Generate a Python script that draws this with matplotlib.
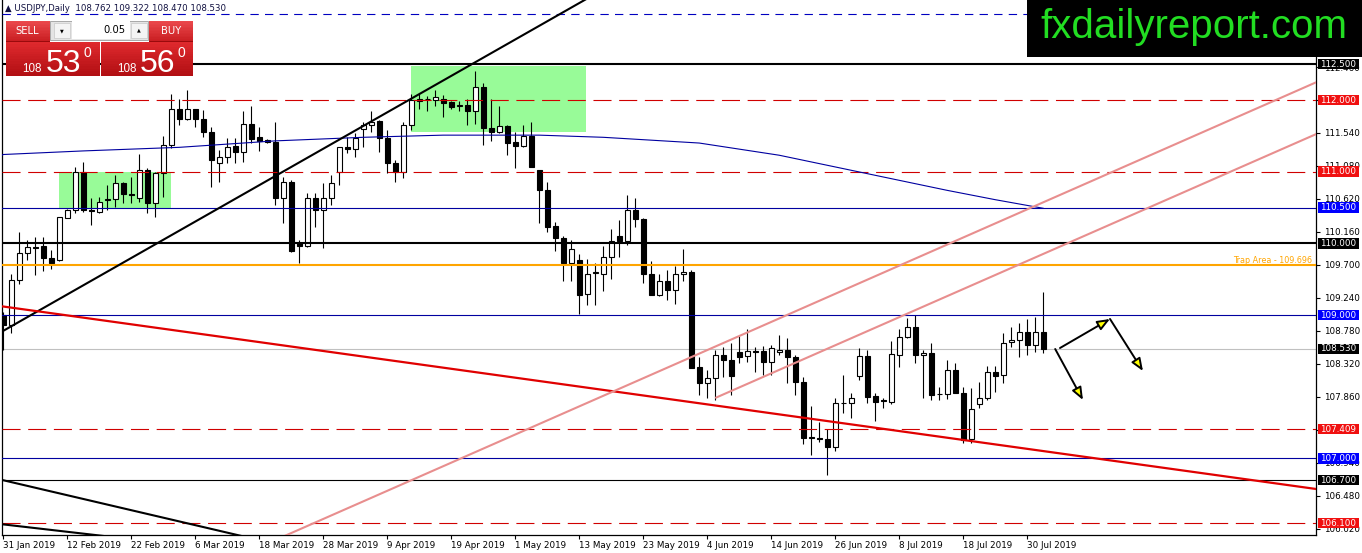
import matplotlib
matplotlib.use("Agg")
import matplotlib.pyplot as plt
from matplotlib.patches import Rectangle, FancyArrowPatch
from matplotlib.transforms import blended_transform_factory
import matplotlib.colors as mcolors
import numpy as np

plt.rcParams['lines.scale_dashes'] = False
plt.rcParams['font.family'] = ['DejaVu Sans']

# ---------------- data ----------------
header_text = "\u25B2 USDJPY,Daily  108.762 109.322 108.470 108.530"

opens = [109.00, 108.86, 109.49, 109.86, 109.95, 109.96, 109.79, 109.77, 110.36, 110.47,
         110.99, 110.46, 110.44, 110.60, 110.62, 110.84, 110.69, 110.64, 111.03, 110.57,
         110.98, 111.37, 111.88, 111.73, 111.87, 111.74, 111.56, 111.12, 111.21, 111.36,
         111.28, 111.67, 111.48, 111.44, 111.42, 110.64, 110.86, 110.01, 109.97, 110.63,
         110.47, 110.64, 111.00, 111.35, 111.31, 111.59, 111.65, 111.71, 111.47, 111.12,
         111.00, 111.65, 111.98, 112.01, 112.00, 112.02, 111.97, 111.92, 111.93, 111.84,
         112.18, 111.61, 111.56, 111.64, 111.42, 111.36, 111.50, 111.02, 110.75, 110.24,
         110.08, 109.72, 109.77, 109.29, 109.59, 109.58, 109.81, 110.11, 110.04, 110.47,
         110.34, 109.58, 109.28, 109.48, 109.35, 109.57, 109.60, 108.27, 108.05, 108.12,
         108.44, 108.38, 108.48, 108.43, 108.50, 108.50, 108.35, 108.49, 108.52, 108.42,
         108.07, 107.30, 107.28, 107.27, 107.16, 107.77, 107.77, 108.15, 108.43, 107.87,
         107.81, 107.79, 108.44, 108.70, 108.83, 108.44, 108.47, 107.90, 107.90, 108.23,
         107.92, 107.27, 107.76, 107.85, 108.20, 108.17, 108.62, 108.65, 108.77, 108.58,
         108.762]
highs = [109.05, 109.58, 110.16, 110.05, 110.09, 110.09, 109.91, 110.37, 110.48, 111.06,
         111.14, 110.64, 110.65, 110.81, 110.95, 110.86, 110.93, 111.25, 111.05, 111.00,
         111.50, 112.08, 112.02, 112.14, 111.88, 111.86, 111.63, 111.30, 111.47, 111.47,
         111.84, 111.91, 111.63, 111.46, 111.70, 110.93, 110.88, 110.05, 110.70, 110.70,
         110.84, 110.95, 111.35, 111.49, 111.54, 111.70, 111.84, 111.72, 111.58, 111.16,
         111.70, 112.09, 112.09, 112.05, 112.14, 112.07, 111.99, 111.99, 112.02, 112.40,
         112.24, 112.02, 111.91, 111.65, 111.56, 111.65, 111.70, 111.02, 110.86, 110.30,
         110.10, 110.05, 109.85, 109.78, 109.72, 109.96, 110.20, 110.33, 110.67, 110.63,
         110.36, 109.76, 109.58, 109.63, 109.68, 109.92, 109.63, 108.42, 108.23, 108.51,
         108.56, 108.61, 108.71, 108.80, 108.56, 108.57, 108.58, 108.72, 108.68, 108.44,
         108.13, 107.73, 107.51, 107.41, 107.84, 108.16, 107.92, 108.54, 108.51, 107.92,
         107.84, 108.64, 108.80, 108.96, 109.00, 108.52, 108.61, 108.00, 108.37, 108.33,
         108.00, 107.98, 108.07, 108.29, 108.29, 108.75, 108.83, 108.89, 108.94, 108.98,
         109.322]
lows = [108.51, 108.75, 109.44, 109.77, 109.56, 109.61, 109.65, 109.75, 110.35, 110.42,
        110.44, 110.26, 110.43, 110.47, 110.51, 110.56, 110.56, 110.58, 110.42, 110.37,
        110.65, 111.33, 111.65, 111.72, 111.63, 111.49, 110.79, 110.86, 111.12, 111.12,
        111.14, 111.40, 111.29, 111.40, 110.54, 110.28, 109.88, 109.73, 109.95, 110.23,
        109.94, 110.54, 110.81, 111.26, 111.21, 111.34, 111.56, 111.28, 110.98, 110.85,
        110.91, 111.58, 111.88, 111.85, 111.92, 111.77, 111.88, 111.84, 111.65, 111.67,
        111.37, 111.43, 111.54, 111.23, 111.05, 111.34, 111.07, 110.28, 110.16, 109.90,
        109.47, 109.48, 109.02, 109.14, 109.14, 109.33, 109.50, 109.81, 109.98, 110.23,
        109.45, 109.28, 109.27, 109.21, 109.15, 109.48, 108.26, 107.89, 107.84, 107.82,
        108.14, 107.89, 108.33, 108.34, 108.21, 108.16, 108.16, 108.44, 108.06, 107.89,
        107.20, 107.05, 107.23, 106.77, 107.10, 107.63, 107.56, 108.09, 107.77, 107.53,
        107.70, 107.76, 108.27, 108.68, 108.33, 107.85, 107.81, 107.81, 107.83, 107.92,
        107.21, 107.21, 107.70, 107.82, 107.93, 108.05, 108.56, 108.42, 108.44, 108.49,
        108.470]
closes = [108.86, 109.49, 109.86, 109.95, 109.94, 109.79, 109.72, 110.37, 110.47, 110.99,
          110.46, 110.45, 110.58, 110.62, 110.84, 110.69, 110.68, 111.03, 110.56, 110.98,
          111.37, 111.88, 111.73, 111.88, 111.74, 111.56, 111.16, 111.21, 111.35, 111.28,
          111.67, 111.45, 111.43, 111.41, 110.64, 110.85, 109.90, 109.97, 110.63, 110.47,
          110.64, 110.84, 111.35, 111.31, 111.47, 111.65, 111.70, 111.47, 111.12, 110.99,
          111.65, 112.00, 112.01, 112.02, 112.04, 111.96, 111.90, 111.92, 111.85, 112.18,
          111.61, 111.56, 111.64, 111.40, 111.36, 111.50, 111.07, 110.75, 110.23, 110.08,
          109.73, 109.92, 109.28, 109.58, 109.59, 109.81, 110.04, 110.04, 110.47, 110.34,
          109.58, 109.28, 109.48, 109.35, 109.57, 109.60, 108.26, 108.05, 108.12, 108.44,
          108.37, 108.15, 108.42, 108.50, 108.48, 108.35, 108.54, 108.52, 108.42, 108.07,
          107.28, 107.28, 107.27, 107.16, 107.77, 107.77, 107.84, 108.43, 107.86, 107.79,
          107.80, 108.46, 108.70, 108.83, 108.44, 108.47, 107.89, 107.90, 108.23, 107.92,
          107.26, 107.69, 107.85, 108.20, 108.15, 108.61, 108.65, 108.77, 108.58, 108.76,
          108.530]

date_bars = [0, 8, 16, 24, 32, 40, 48, 56, 64, 72, 80, 88, 96, 104, 112, 120, 128]
date_labels = ["31 Jan 2019", "12 Feb 2019", "22 Feb 2019", "6 Mar 2019", "18 Mar 2019",
               "28 Mar 2019", "9 Apr 2019", "19 Apr 2019", "1 May 2019", "13 May 2019",
               "23 May 2019", "4 Jun 2019", "14 Jun 2019", "26 Jun 2019", "8 Jul 2019",
               "18 Jul 2019", "30 Jul 2019"]

price_ticks = [106.02, 106.48, 106.94, 107.40, 107.86, 108.32, 108.78, 109.24, 109.70,
               110.16, 110.62, 111.08, 111.54, 112.00, 112.46, 112.92, 113.38]
# tick labels fully covered in the reference (by level boxes or logo) are left blank
price_tick_labels = ["106.020", "106.480", "106.940", "", "107.860", "108.320", "108.780",
                     "109.240", "109.700", "110.160", "110.620", "111.080", "111.540", "",
                     "112.460", "", ""]

ma_bars = [-0.15, 0, 10, 22, 34, 45, 55, 67, 75, 87, 97, 106, 112, 118, 124, 130]
ma_vals = [111.23, 111.24, 111.29, 111.34, 111.43, 111.48, 111.51, 111.51, 111.48,
           111.40, 111.23, 111.02, 110.88, 110.74, 110.61, 110.49]

red_dashed_levels = [112.0, 111.0, 107.409, 106.1]
blue_levels = [110.5, 109.0, 107.0]
black_thick_levels = [112.5, 110.0]
black_thin_levels = [106.7]
trap_level = 109.696
trap_label = "Trap Area - 109.696"
top_dashed_level = 113.2
bid_price = 108.530

label_levels = [112.5, 112.0, 111.0, 110.5, 110.0, 109.0, 108.53, 107.409, 107.0, 106.7, 106.1]
label_kinds = ["black", "red", "red", "blue", "black", "blue", "black", "red", "blue", "black", "red"]

# zones: (bar_from, bar_to), (price_low, price_high)
zone_bars = [(7.0, 20.95), (50.95, 72.85)]
zone_prices = [(110.49, 111.0), (111.55, 112.48)]

# trend lines: two anchor points (bar, price)
trend_black_up = [(0, 108.78), (50, 111.955)]
trend_red_down = [(0, 109.12), (100, 107.569)]
trend_pink_long = [(36, 105.96), (130, 110.573)]
trend_pink_short = [(89, 107.844), (130, 109.853)]
trend_black_low1 = [(0, 106.697), (28, 105.966)]
trend_black_low2 = [(0, 106.081), (8, 105.978)]

# arrows (bar, price)
arrow_pts = [((132.1, 108.541), (138.35, 108.946)),
             ((138.35, 108.946), (142.47, 108.220)),
             ((131.5, 108.527), (134.97, 107.816))]

lot_size = "0.05"
sell_quote = ("108", "53", "0")
buy_quote = ("108", "56", "0")
logo_text = "fxdailyreport.com"

# ---------------- figure ----------------
W, H = 1362, 553
fig = plt.figure(figsize=(W / 100, H / 100), dpi=100)
fig.patch.set_facecolor("white")
ax = fig.add_axes([2 / W, (H - 535) / H, 1314 / W, 535 / H])
ax.set_facecolor("white")
ax.set_xlim(-0.15, 164.1)
ax.set_ylim(105.933, 113.395)

# zones (background)
for (b0, b1), (p0, p1) in zip(zone_bars, zone_prices):
    ax.add_patch(Rectangle((b0, p0), b1 - b0, p1 - p0, facecolor="#98fb98",
                           edgecolor="none", zorder=1))

# candles
for i, (o, h, l, c) in enumerate(zip(opens, highs, lows, closes)):
    ax.vlines(i, l, h, color="black", lw=0.8, zorder=3)
    lo, hi = min(o, c), max(o, c)
    ax.add_patch(Rectangle((i - 0.3, lo), 0.6, max(hi - lo, 0.006),
                           facecolor="white" if c >= o else "black",
                           edgecolor="black", lw=0.8, zorder=4))

# horizontal levels
for p in red_dashed_levels:
    ax.axhline(p, color="#d00000", lw=0.8, ls=(0, (13, 5.5)), zorder=5)
for p in blue_levels:
    ax.axhline(p, color="#0000a0", lw=0.8, zorder=5)
for p in black_thick_levels:
    ax.axhline(p, color="black", lw=1.5, zorder=5)
for p in black_thin_levels:
    ax.axhline(p, color="black", lw=0.8, zorder=5)
ax.axhline(trap_level, color="#ffa500", lw=1.5, zorder=5)
ax.axhline(top_dashed_level, color="#0000c0", lw=0.8, ls=(0, (6, 4.5)), zorder=5)
ax.axhline(bid_price, color="#c0c0c0", lw=0.8, zorder=2)

ax.text(163.6, 109.768, trap_label, color="#ffa500", fontsize=5.8,
        ha="right", va="center", zorder=6)

# moving average
ax.plot(ma_bars, ma_vals, color="#0000a0", lw=0.8, zorder=6)


def draw_trend(pts, b_from, b_to, **kw):
    (b0, p0), (b1, p1) = pts
    s = (p1 - p0) / (b1 - b0)
    xs = np.array([b_from, b_to])
    ax.plot(xs, p0 + s * (xs - b0), zorder=6, solid_capstyle="butt", **kw)


draw_trend(trend_black_up, -1, 80, color="black", lw=1.5)
draw_trend(trend_red_down, -1, 170, color="#e00000", lw=1.6)
draw_trend(trend_pink_long, 25, 170, color="#e88e8e", lw=1.5)
draw_trend(trend_pink_short, 89, 170, color="#e88e8e", lw=1.5)
draw_trend(trend_black_low1, -1, 45, color="black", lw=1.5)
draw_trend(trend_black_low2, -1, 20, color="black", lw=1.5)

for a, b in arrow_pts:
    ax.add_patch(FancyArrowPatch(a, b, arrowstyle="-|>,head_length=7.5,head_width=3",
                                 mutation_scale=1, facecolor="#ffff00", edgecolor="black",
                                 lw=1.4, zorder=7, shrinkA=0, shrinkB=0))

# axes styling
ax.yaxis.tick_right()
ax.set_yticks(price_ticks)
ax.set_yticklabels(price_tick_labels)
ax.tick_params(axis="y", length=3, width=0.8, pad=2.5, labelsize=6.3, colors="black")
ax.set_xticks(date_bars)
ax.set_xticklabels(date_labels, ha="left")
ax.tick_params(axis="x", length=3, width=0.8, pad=1.5, labelsize=6.3)
ax.spines["top"].set_visible(False)
for s in ["left", "right", "bottom"]:
    ax.spines[s].set_linewidth(0.9)
    ax.spines[s].set_color("black")

# price label boxes on the right
box_colors = {"black": "#000000", "red": "#f01010", "blue": "#0000ff"}
tr = blended_transform_factory(ax.transAxes, ax.transData)
bh = 10.5 / 71.7
for p, k in zip(label_levels, label_kinds):
    ax.add_patch(Rectangle((1.0015, p - bh / 2), 41 / 1314, bh, transform=tr,
                           facecolor=box_colors[k], edgecolor="none",
                           clip_on=False, zorder=8))
    ax.text(1.0171, p, f"{p:.3f}", transform=tr, color="white", fontsize=6.3,
            ha="center", va="center", clip_on=False, zorder=9)


# ---------------- overlays in pixel coords ----------------
def fig_rect(x0, y0, x1, y1, z=10, **kw):
    r = Rectangle((x0 / W, 1 - y1 / H), (x1 - x0) / W, (y1 - y0) / H,
                  transform=fig.transFigure, zorder=z, **kw)
    fig.add_artist(r)
    return r


def grad_rect(x0, y0, x1, y1, c0, c1, n=14, z=10):
    c0 = np.array(mcolors.to_rgb(c0))
    c1 = np.array(mcolors.to_rgb(c1))
    for k in range(n):
        ya = y0 + (y1 - y0) * k / n
        yb = y0 + (y1 - y0) * (k + 1) / n
        col = c0 + (c1 - c0) * (k + 0.5) / n
        fig_rect(x0, ya, x1, yb + 0.4, z=z, facecolor=col, edgecolor="none")


def fig_text(x, y, s, **kw):
    kw.setdefault("zorder", 12)
    fig.text(x / W, 1 - y / H, s, **kw)


# header
fig_text(5, 8.5, header_text, fontsize=6.2, color="#101040", ha="left", va="center")

# logo
fig_rect(1027, 0, 1362, 57, facecolor="black", edgecolor="none", z=11)
fig_text(1194, 27, logo_text, fontsize=29, color="#22dd22", ha="center", va="center",
         family="Liberation Sans")

# trade panel
grad_rect(6, 20.7, 49.5, 41.7, "#ec4a4e", "#c81c20")
grad_rect(149, 20.7, 193.3, 41.7, "#ec4a4e", "#c81c20")
grad_rect(6, 41.7, 99.5, 76, "#e02a2e", "#b00e12")
grad_rect(100.7, 41.7, 193.3, 76, "#e02a2e", "#b00e12")
fig_rect(6, 41.2, 49.5, 42.2, facecolor="#9a0a0c", edgecolor="none", z=11)
fig_rect(149, 41.2, 193.3, 42.2, facecolor="#9a0a0c", edgecolor="none", z=11)
fig_rect(50.5, 20.7, 148, 39.5, facecolor="#e4e4e4", edgecolor="#a8a8a8", lw=0.7, z=10)
fig_rect(71.5, 21.5, 129.5, 38.8, facecolor="white", edgecolor="none", z=11)
fig_rect(53.5, 22.5, 69.5, 37.5, facecolor="#f4f4f4", edgecolor="#c8c8c8", lw=0.5, z=11)
fig_rect(131, 22.5, 146.5, 37.5, facecolor="#f4f4f4", edgecolor="#c8c8c8", lw=0.5, z=11)
fig_text(61.5, 30.5, "\u25BC", fontsize=3.5, color="black", ha="center", va="center")
fig_text(138.8, 30, "\u25B2", fontsize=3.5, color="black", ha="center", va="center")
fig_text(126, 30, lot_size, fontsize=7.2, color="black", ha="right", va="center")
fig_text(27.5, 31, "SELL", fontsize=7.2, color="white", ha="center", va="center")
fig_text(171, 31, "BUY", fontsize=7.2, color="white", ha="center", va="center")

for (big_x, small_x, sup_x), q in zip([(46, 22.5, 83), (140, 117, 178)], [sell_quote, buy_quote]):
    fig_text(small_x, 72, q[0], fontsize=8.4, color="white", ha="left", va="baseline",
             family="Liberation Sans")
    fig_text(big_x, 71.5, q[1], fontsize=23, color="white", ha="left", va="baseline",
             family="Liberation Sans")
    fig_text(sup_x, 57, q[2], fontsize=10, color="white", ha="left", va="baseline",
             family="Liberation Sans")

fig.savefig("out.png", dpi=100, facecolor="white")
